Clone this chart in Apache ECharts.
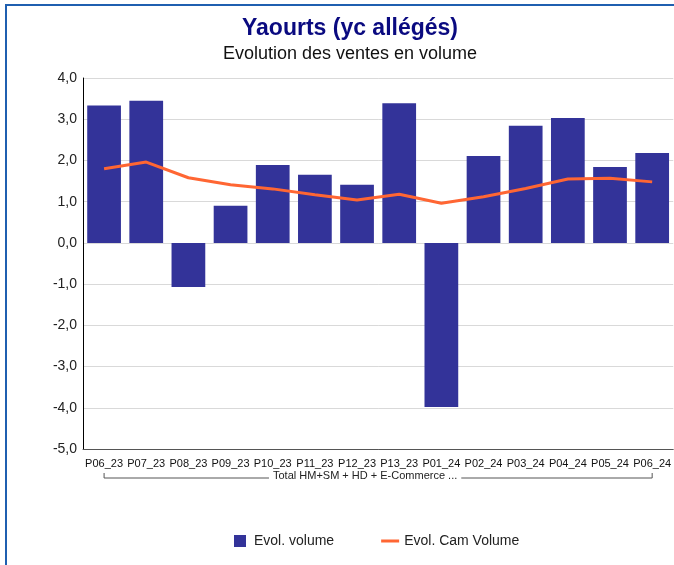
<!DOCTYPE html>
<html>
<head>
<meta charset="utf-8">
<script src="https://cdn.jsdelivr.net/npm/echarts@6/dist/echarts.min.js"></script>
<style>
html, body { margin: 0; padding: 0; background: #fff; }
#frame { position: absolute; left: 5px; top: 4px; width: 669px; height: 561px;
         border-left: 2px solid #1f5fb0; border-top: 2px solid #1f5fb0; box-sizing: border-box; }
#main { position: absolute; left: 0; top: 0; width: 674px; height: 565px; }
</style>
</head>
<body>
<div id="frame"></div>
<div id="main"></div>
<script>
// données
var periodes = ['P06_23', 'P07_23', 'P08_23', 'P09_23', 'P10_23', 'P11_23', 'P12_23', 'P13_23', 'P01_24', 'P02_24', 'P03_24', 'P04_24', 'P05_24', 'P06_24'];
var evolVolume = [3.33, 3.45, -1.07, 0.90, 1.89, 1.65, 1.41, 3.39, -3.98, 2.11, 2.84, 3.03, 1.84, 2.18];
var evolCamVolume = [1.80, 1.96, 1.58, 1.41, 1.31, 1.17, 1.04, 1.18, 0.96, 1.12, 1.32, 1.55, 1.57, 1.48];
var groupe = 'Total HM+SM + HD + E-Commerce ...';

var police = 'Liberation Sans, Arial, sans-serif';
var chart = echarts.init(document.getElementById('main'));
var option = {
    animation: false,
    textStyle: { fontFamily: police },
    title: [
        {
            text: 'Yaourts (yc allégés)',
            left: 345,
            top: 12,
            textAlign: 'center',
            textStyle: { color: '#0a0a80', fontSize: 23, fontWeight: 'bold', fontFamily: police }
        },
        {
            text: 'Evolution des ventes en volume',
            left: 345,
            top: 40,
            textAlign: 'center',
            textStyle: { color: '#111', fontSize: 18, fontWeight: 'normal', fontFamily: police }
        }
    ],
    legend: {
        top: 529,
        left: 229,
        itemWidth: 18,
        itemHeight: 12,
        itemGap: 47,
        textStyle: { fontSize: 14, color: '#222', fontFamily: police },
        data: [
            { name: 'Evol. volume', icon: 'path://M0,0h10v10h-10z' },
            { name: 'Evol. Cam Volume', icon: 'path://M0,0h18v3h-18z' }
        ]
    },
    grid: { left: 83, right: -3, top: 78, bottom: 116 },
    xAxis: {
        type: 'category',
        data: periodes,
        position: 'bottom',
        axisLine: { onZero: false, lineStyle: { color: '#555', width: 1 } },
        axisTick: { show: false },
        axisLabel: { interval: 0, fontSize: 11, color: '#111', margin: 9 }
    },
    yAxis: {
        type: 'value',
        min: -5,
        max: 4,
        interval: 1,
        axisLine: { show: true, lineStyle: { color: '#000', width: 1 } },
        axisTick: { show: false },
        splitLine: { lineStyle: { color: '#d9d9d9', width: 1 } },
        axisLabel: {
            fontSize: 14, color: '#222', margin: 6,
            formatter: function (v) { return v.toFixed(1).replace('.', ','); }
        }
    },
    series: [
        {
            name: 'Evol. volume',
            type: 'bar',
            data: evolVolume,
            barWidth: '80%',
            itemStyle: { color: '#333399' }
        },
        {
            name: 'Evol. Cam Volume',
            type: 'line',
            data: evolCamVolume,
            symbol: 'none',
            lineStyle: { color: '#ff6633', width: 3 },
            itemStyle: { color: '#ff6633' }
        }
    ]
};
chart.setOption(option);

// accolade du groupe sous les libellés
var x0 = chart.convertToPixel({ xAxisIndex: 0 }, periodes[0]);
var x1 = chart.convertToPixel({ xAxisIndex: 0 }, periodes[periodes.length - 1]);
var yb = 478;
chart.setOption({
    graphic: [
        {
            type: 'polyline',
            shape: { points: [[x0, 473], [x0, yb], [x1, yb], [x1, 473]] },
            style: { stroke: '#555', lineWidth: 1, fill: null }
        },
        {
            type: 'text',
            x: (x0 + x1) / 2 - 13,
            y: 476,
            style: {
                text: groupe,
                fontSize: 11,
                fontFamily: police,
                fill: '#222',
                align: 'center',
                verticalAlign: 'middle',
                backgroundColor: '#fff',
                padding: [0, 4]
            }
        }
    ]
});
</script>
</body>
</html>
